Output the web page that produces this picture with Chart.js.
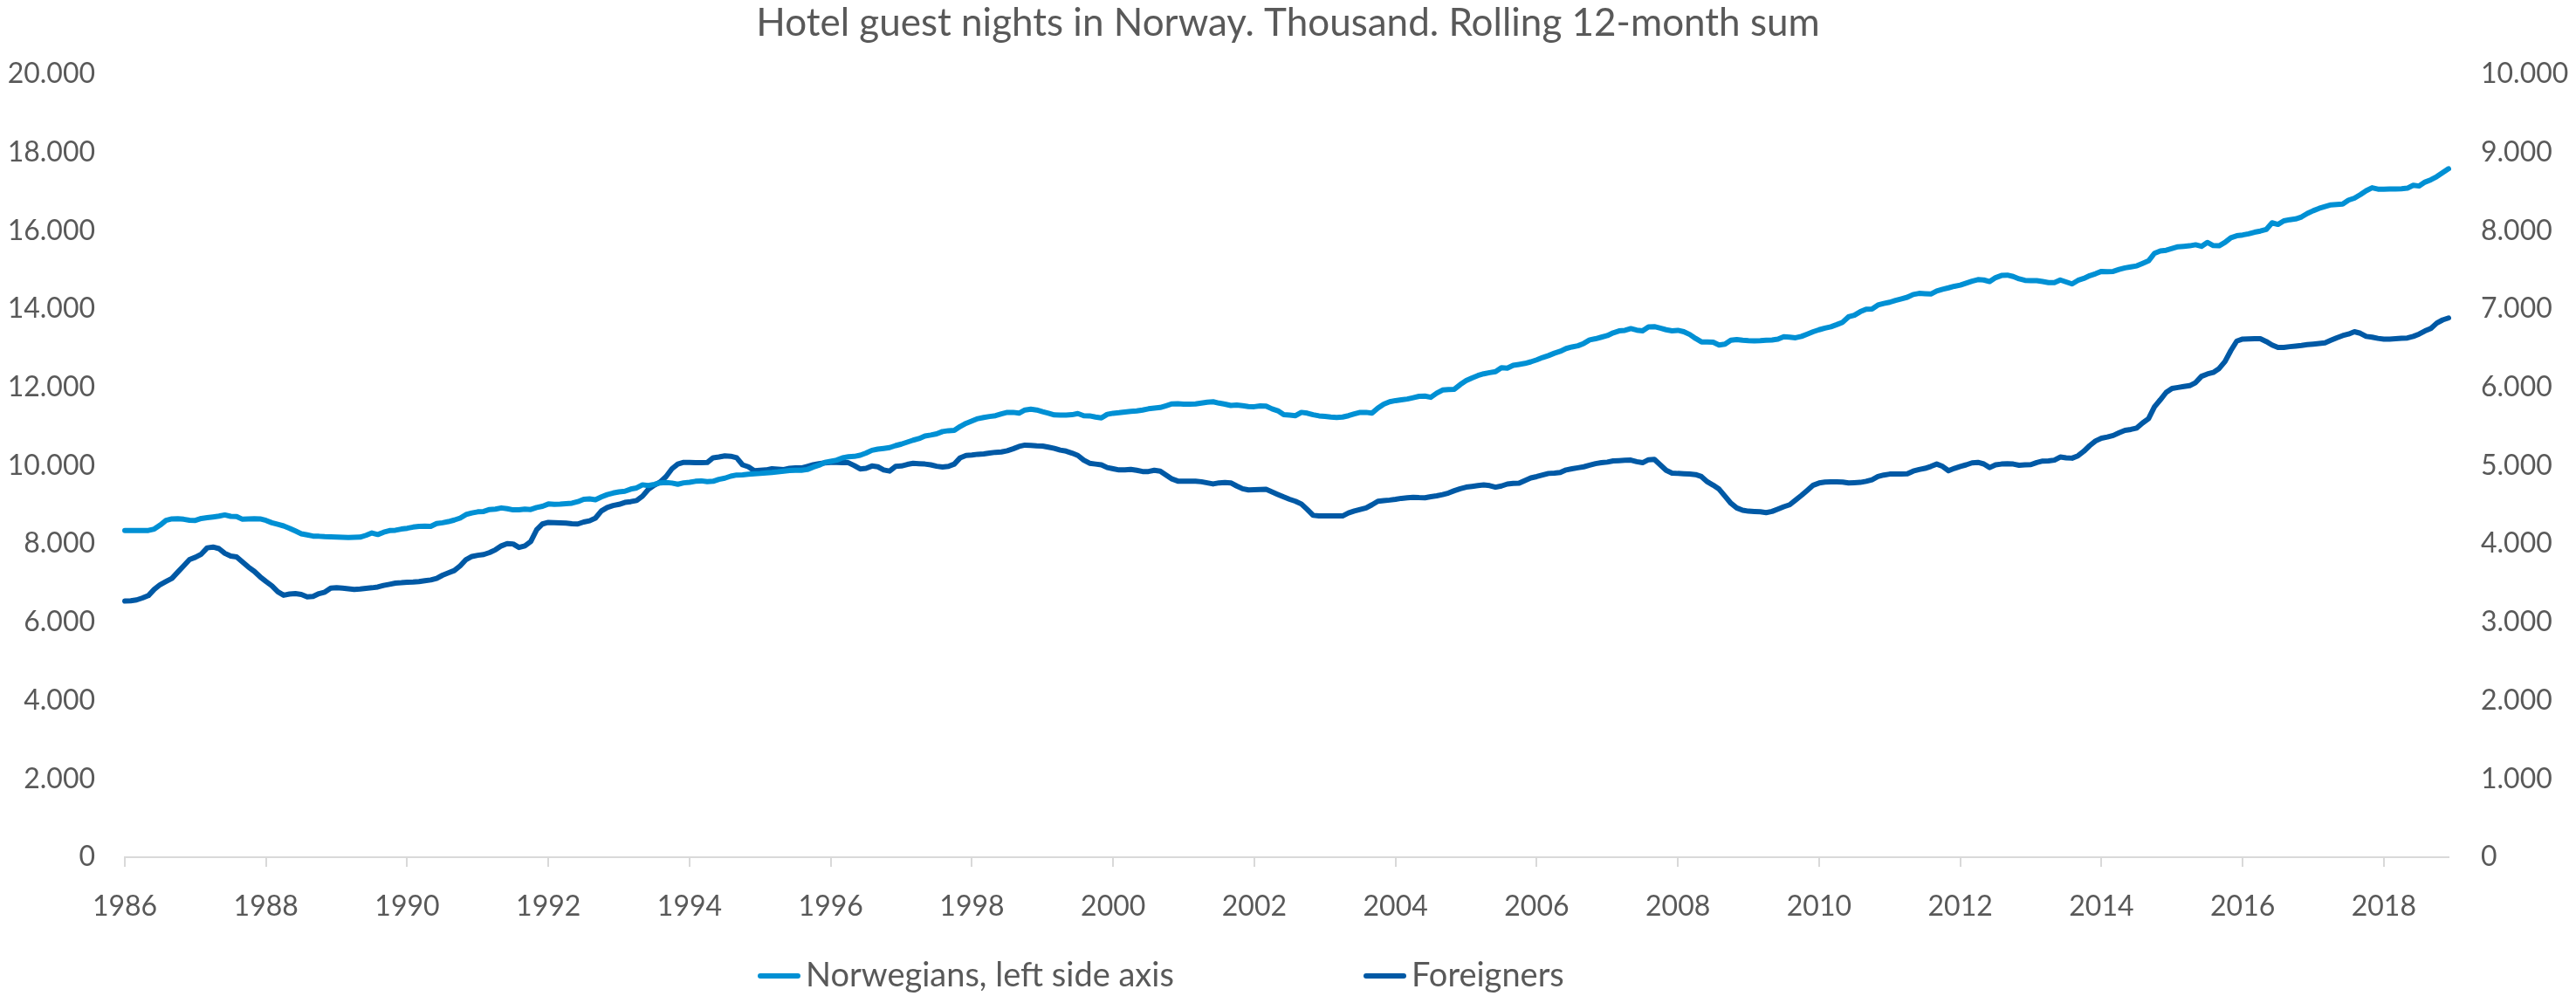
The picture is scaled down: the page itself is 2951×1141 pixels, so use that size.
<!DOCTYPE html>
<html>
<head>
<meta charset="utf-8">
<title>Hotel guest nights in Norway</title>
<script src="https://cdn.jsdelivr.net/npm/chart.js@4.4.1/dist/chart.umd.min.js"></script>
<style>
  html, body { margin: 0; padding: 0; background: #ffffff; }
  #wrap { width: 2951px; height: 1141px; }
</style>
</head>
<body>
<div id="wrap"><canvas id="chart" width="2951" height="1141"></canvas></div>
<script>
// ---- data -------------------------------------------------------------
const chartTitle = 'Hotel guest nights in Norway. Thousand. Rolling 12-month sum';
const seriesNames = ['Norwegians, left side axis', 'Foreigners'];

const years = [1986, 1987, 1988, 1989, 1990, 1991, 1992, 1993, 1994, 1995, 1996,
  1997, 1998, 1999, 2000, 2001, 2002, 2003, 2004, 2005, 2006, 2007, 2008, 2009,
  2010, 2011, 2012, 2013, 2014, 2015, 2016, 2017, 2018];
const monthNames = ['01', '02', '03', '04', '05', '06', '07', '08', '09', '10', '11', '12'];

const yearTickLabels = ['1986', '1988', '1990', '1992', '1994', '1996', '1998', '2000',
  '2002', '2004', '2006', '2008', '2010', '2012', '2014', '2016', '2018'];
const leftTicks = [0, 2000, 4000, 6000, 8000, 10000, 12000, 14000, 16000, 18000, 20000];
const rightTicks = [0, 1000, 2000, 3000, 4000, 5000, 6000, 7000, 8000, 9000, 10000];

// Norwegians, thousand guest nights, rolling 12-month sum (left axis), Jan 1986 - Dec 2018
const norwegians = [
  8340, 8340, 8340, 8340, 8345, 8380, 8480, 8600, 8640, 8645, 8630, 8605,
  8600, 8650, 8670, 8690, 8710, 8740, 8705, 8700, 8630, 8640, 8645, 8640,
  8600, 8540, 8500, 8460, 8400, 8330, 8260, 8230, 8200, 8195, 8185, 8180,
  8175, 8170, 8165, 8170, 8175, 8220, 8280, 8240, 8300, 8340, 8350, 8380,
  8400, 8430, 8450, 8455, 8450, 8520, 8540, 8570, 8610, 8660, 8750, 8790,
  8820, 8830, 8880, 8890, 8920, 8900, 8870, 8870, 8890, 8880, 8930, 8960,
  9020, 9010, 9015, 9030, 9040, 9080, 9140, 9150, 9130, 9200, 9260, 9300,
  9330, 9345, 9400, 9430, 9510, 9490, 9520, 9560, 9570, 9555, 9525, 9560,
  9575, 9600, 9610, 9590, 9600, 9650, 9680, 9730, 9760, 9765, 9780, 9790,
  9800, 9815, 9825, 9840, 9860, 9875, 9880, 9880, 9900, 9960, 10010, 10080,
  10110, 10140, 10200, 10225, 10235, 10265, 10320, 10390, 10420, 10440, 10460, 10510,
  10550, 10600, 10650, 10690, 10755, 10780, 10810, 10870, 10892, 10900, 11000, 11080,
  11140, 11200, 11230, 11255, 11275, 11320, 11360, 11360, 11340, 11420, 11440, 11420,
  11378, 11340, 11295, 11292, 11290, 11300, 11330, 11275, 11270, 11240, 11218, 11310,
  11337, 11350, 11370, 11385, 11395, 11420, 11450, 11468, 11485, 11530, 11575, 11580,
  11570, 11570, 11575, 11596, 11620, 11630, 11596, 11570, 11535, 11548, 11530, 11510,
  11505, 11525, 11520, 11450, 11400, 11300, 11290, 11275, 11360, 11340, 11300, 11270,
  11255, 11240, 11232, 11240, 11275, 11320, 11360, 11360, 11340, 11470, 11570, 11630,
  11660, 11680, 11700, 11735, 11770, 11775, 11745, 11850, 11930, 11944, 11950, 12070,
  12170, 12240, 12300, 12345, 12375, 12400, 12500, 12490, 12560, 12585, 12610, 12650,
  12700, 12760, 12810, 12870, 12920, 12990, 13030, 13060, 13120, 13210, 13240, 13280,
  13320, 13390, 13440, 13455, 13500, 13460, 13440, 13540, 13550, 13510, 13470, 13443,
  13455, 13420, 13350, 13248, 13160, 13160, 13150, 13080, 13100, 13200, 13220, 13200,
  13190, 13184, 13190, 13200, 13210, 13228, 13290, 13280, 13265, 13300, 13360, 13420,
  13470, 13510, 13545, 13600, 13661, 13800, 13840, 13930, 13993, 14000, 14100, 14140,
  14172, 14220, 14260, 14300, 14370, 14398, 14390, 14382, 14460, 14505, 14540, 14580,
  14609, 14660, 14710, 14750, 14740, 14700, 14800, 14855, 14865, 14830, 14770, 14730,
  14722, 14722, 14700, 14674, 14674, 14740, 14690, 14640, 14730, 14780, 14850, 14900,
  14960, 14950, 14960, 15010, 15050, 15075, 15100, 15165, 15230, 15420, 15480, 15500,
  15545, 15590, 15600, 15613, 15640, 15600, 15700, 15620, 15613, 15700, 15820, 15870,
  15890, 15920, 15960, 15990, 16030, 16200, 16160, 16250, 16280, 16300, 16350, 16440,
  16510, 16570, 16615, 16660, 16670, 16680, 16780, 16830, 16920, 17020, 17095, 17060,
  17058, 17062, 17066, 17072, 17085, 17160, 17140, 17240, 17300, 17380, 17480, 17580
];

// Foreigners, thousand guest nights, rolling 12-month sum (right axis), Jan 1986 - Dec 2018
const foreigners = [
  3270, 3275, 3285, 3310, 3340, 3420, 3480, 3520, 3560, 3640, 3720, 3800,
  3830, 3870, 3950, 3960, 3940, 3880, 3845, 3835, 3770, 3705, 3650, 3580,
  3520, 3465, 3390, 3345, 3360, 3365, 3355, 3325, 3330, 3365, 3385, 3435,
  3442, 3435, 3428, 3420, 3425, 3434, 3440, 3450, 3470, 3485, 3500, 3505,
  3512, 3515, 3520, 3530, 3540, 3560, 3600, 3630, 3660, 3720, 3800, 3840,
  3855, 3865, 3890, 3925, 3975, 4005, 4000, 3955, 3975, 4030, 4180, 4255,
  4275, 4272, 4268, 4265, 4258, 4255, 4280, 4295, 4330, 4420, 4465, 4490,
  4505, 4530, 4540, 4555, 4610, 4697, 4750, 4790, 4860, 4960, 5020, 5042,
  5040, 5037, 5037, 5040, 5100, 5110, 5125, 5120, 5100, 5010, 4985, 4935,
  4940, 4945, 4960, 4955, 4950, 4965, 4970, 4970, 4990, 5010, 5025, 5035,
  5040, 5040, 5038, 5037, 5000, 4958, 4965, 4995, 4985, 4945, 4930, 4990,
  4995, 5015, 5029, 5025, 5020, 5010, 4992, 4982, 4990, 5020, 5100, 5130,
  5135, 5145, 5150, 5160, 5170, 5175, 5190, 5215, 5245, 5262, 5258, 5252,
  5250, 5235, 5220, 5198, 5185, 5160, 5130, 5070, 5030, 5020, 5010, 4975,
  4960, 4945, 4945, 4952, 4940, 4925, 4925, 4940, 4930, 4880, 4830, 4802,
  4802, 4802, 4800, 4794, 4780, 4766, 4780, 4785, 4780, 4740, 4705, 4690,
  4692, 4695, 4697, 4665, 4632, 4600, 4570, 4545, 4510, 4440, 4365, 4358,
  4357, 4357, 4357, 4357, 4395, 4420, 4440, 4460, 4500, 4545, 4553, 4560,
  4570, 4582, 4590, 4596, 4592, 4590, 4604, 4615, 4630, 4650, 4680, 4705,
  4725, 4735, 4745, 4754, 4745, 4725, 4740, 4765, 4772, 4775, 4810, 4843,
  4860, 4880, 4900, 4905, 4912, 4945, 4960, 4972, 4985, 5005, 5025, 5037,
  5045, 5060, 5064, 5068, 5070, 5050, 5037, 5075, 5080, 5010, 4940, 4905,
  4900, 4897, 4894, 4885, 4860, 4794, 4750, 4700, 4610, 4520, 4460, 4430,
  4418, 4415, 4410, 4400, 4415, 4445, 4475, 4500, 4560, 4620, 4685, 4750,
  4778, 4790, 4794, 4794, 4790, 4778, 4782, 4786, 4800, 4820, 4860, 4880,
  4892, 4892, 4892, 4895, 4930, 4950, 4965, 4990, 5020, 4990, 4935, 4965,
  4990, 5010, 5035, 5041, 5021, 4975, 5010, 5020, 5025, 5020, 5005, 5010,
  5013, 5040, 5058, 5060, 5070, 5110, 5100, 5095, 5125, 5183, 5255, 5315,
  5350, 5365, 5385, 5420, 5450, 5462, 5480, 5545, 5600, 5750, 5840, 5935,
  5985, 5998, 6010, 6021, 6060, 6140, 6170, 6190, 6240, 6330, 6470, 6590,
  6616, 6618, 6620, 6620, 6585, 6540, 6508, 6510, 6519, 6527, 6535, 6545,
  6552, 6560, 6568, 6600, 6632, 6660, 6680, 6710, 6690, 6650, 6640, 6625,
  6616, 6616, 6620, 6625, 6630, 6650, 6680, 6720, 6752, 6820, 6860, 6885
];

// ---- styling ----------------------------------------------------------
const FONT = 'Lato, "Open Sans", sans-serif';
const TEXT_COLOR = '#595959';
const AXIS_COLOR = '#d9d9d9';
const COLOR_NOR = '#0090d4';
const COLOR_FOR = '#0059a5';

const categories = years.flatMap(y => monthNames.map(m => y + '-' + m));
const thousands = v => String(v).replace(/\B(?=(\d{3})+(?!\d))/g, '.');
const isYearTick = i => {
  const [y, m] = categories[i].split('-');
  return m === '01' && yearTickLabels.includes(y);
};

// Legend drawn as line samples under the x axis
const bottomLegend = {
  id: 'bottomLegend',
  afterDraw(chart) {
    const ctx = chart.ctx;
    const y = 1118;
    const slotLeft = 868, slotWidth = 694, sample = 49, gap = 6;
    ctx.save();
    ctx.font = '38px ' + FONT;
    ctx.textBaseline = 'middle';
    ctx.textAlign = 'left';
    chart.data.datasets.forEach((ds, i) => {
      const x0 = slotLeft + i * slotWidth;
      ctx.strokeStyle = ds.borderColor;
      ctx.lineWidth = 6;
      ctx.lineCap = 'round';
      ctx.beginPath();
      ctx.moveTo(x0 + 3, y);
      ctx.lineTo(x0 + sample - 3, y);
      ctx.stroke();
      ctx.fillStyle = TEXT_COLOR;
      ctx.fillText(ds.label, x0 + sample + gap, y);
    });
    ctx.restore();
  }
};

new Chart(document.getElementById('chart'), {
  type: 'line',
  data: {
    labels: categories,
    datasets: [
      {
        label: seriesNames[0],
        data: norwegians,
        yAxisID: 'yLeft',
        borderColor: COLOR_NOR,
        backgroundColor: COLOR_NOR,
        borderWidth: 6,
        pointRadius: 0,
        tension: 0,
        borderCapStyle: 'round',
        borderJoinStyle: 'round'
      },
      {
        label: seriesNames[1],
        data: foreigners,
        yAxisID: 'yRight',
        borderColor: COLOR_FOR,
        backgroundColor: COLOR_FOR,
        borderWidth: 6,
        pointRadius: 0,
        tension: 0,
        borderCapStyle: 'round',
        borderJoinStyle: 'round'
      }
    ]
  },
  options: {
    responsive: false,
    animation: false,
    devicePixelRatio: 1,
    layout: { padding: { top: 0, left: 0, right: 0, bottom: 80 } },
    plugins: {
      legend: { display: false },
      tooltip: { enabled: false },
      title: {
        display: true,
        text: chartTitle,
        color: TEXT_COLOR,
        font: { family: FONT, size: 44, weight: 'normal', lineHeight: 1.2 },
        padding: { top: 0, bottom: 32 }
      }
    },
    scales: {
      x: {
        type: 'category',
        offset: false,
        afterFit: s => { s.height = 79; },
        border: { display: true, color: AXIS_COLOR, width: 2 },
        grid: {
          drawOnChartArea: false,
          drawTicks: true,
          tickLength: 11,
          lineWidth: 2,
          color: c => (c.index !== undefined && isYearTick(c.index)) ? AXIS_COLOR : 'rgba(0,0,0,0)'
        },
        ticks: {
          autoSkip: false,
          maxRotation: 0,
          minRotation: 0,
          padding: 26,
          color: TEXT_COLOR,
          font: { family: FONT, size: 32 },
          callback: (v, i) => isYearTick(i) ? categories[i].slice(0, 4) : ''
        }
      },
      yLeft: {
        type: 'linear',
        position: 'left',
        min: 0,
        max: 20000,
        afterFit: s => { s.width = 143; },
        afterBuildTicks: s => { s.ticks = leftTicks.map(v => ({ value: v })); },
        border: { display: false },
        grid: { display: false, drawTicks: false },
        ticks: {
          padding: 34,
          color: TEXT_COLOR,
          font: { family: FONT, size: 32 },
          callback: v => thousands(v)
        }
      },
      yRight: {
        type: 'linear',
        position: 'right',
        min: 0,
        max: 10000,
        afterFit: s => { s.width = 146; },
        afterBuildTicks: s => { s.ticks = rightTicks.map(v => ({ value: v })); },
        border: { display: false },
        grid: { display: false, drawTicks: false },
        ticks: {
          padding: 37,
          color: TEXT_COLOR,
          font: { family: FONT, size: 32 },
          callback: v => thousands(v)
        }
      }
    }
  },
  plugins: [bottomLegend]
});
</script>
</body>
</html>
